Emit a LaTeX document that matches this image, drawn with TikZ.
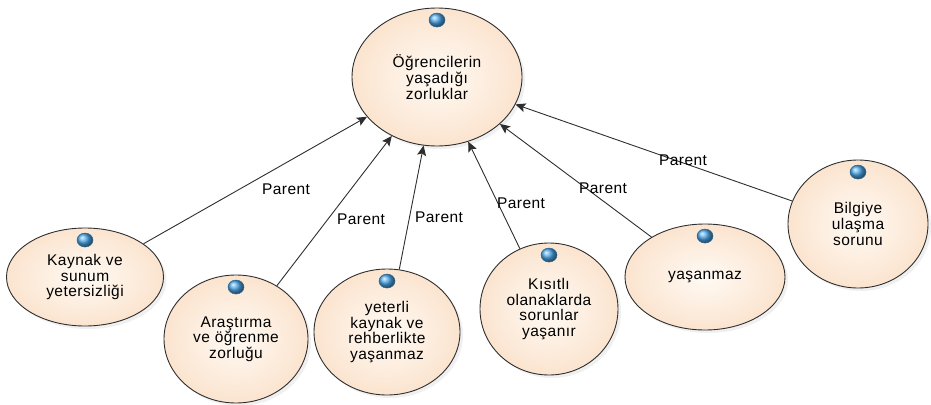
\documentclass[tikz,border=0pt]{standalone}
\usepackage{fontspec}
\setmainfont{Liberation Sans}
\usetikzlibrary{shapes.geometric,arrows.meta,shadows}
\definecolor{peach}{HTML}{FBE4CF}
\definecolor{peachlight}{HTML}{FFFAF4}
\definecolor{edge}{HTML}{2E2E2E}
\definecolor{dotblue}{HTML}{4FAAEC}

\begin{document}
\begin{tikzpicture}[x=1pt,y=-1pt,
    usecase/.style={ellipse, draw=edge, line width=0.9pt, inner color=peachlight, outer color=peach,
      align=center, inner sep=0pt,
      drop shadow={opacity=0.12, shadow xshift=3pt, shadow yshift=-3pt},
      font=\fontsize{15.5}{15.6}\selectfont\addfontfeature{LetterSpace=3}},
    dot/.style={ellipse, draw=dotblue!60!black, line width=0.5pt, shading=ball, ball color=dotblue,
      minimum width=16pt, minimum height=14pt, inner sep=0pt},
    lab/.style={inner sep=1pt, font=\fontsize{15.5}{15.6}\selectfont\addfontfeature{LetterSpace=3}},
    arr/.style={draw=edge, line width=0.9pt, -{Stealth[length=10pt, width=9pt, inset=2pt]}}]
  \useasboundingbox (0,0) rectangle (931,404);

  \node[usecase, minimum width=170pt, minimum height=138pt] (root) at (437,77) {Öğrencilerin\\yaşadığı\\zorluklar};
  \node[usecase, minimum width=157pt, minimum height=98pt] (c1) at (85,277) {Kaynak ve\\sunum\\yetersizliği};
  \node[usecase, minimum width=144pt, minimum height=128pt] (c2) at (236,339) {Araştırma\\ve öğrenme\\zorluğu};
  \node[usecase, minimum width=146pt, minimum height=126pt] (c3) at (387,332) {yeterli\\kaynak ve\\rehberlikte\\yaşanmaz};
  \node[usecase, minimum width=138pt, minimum height=132pt] (c4) at (549,309) {Kısıtlı\\olanaklarda\\sorunlar\\yaşanır};
  \node[usecase, minimum width=160pt, minimum height=106pt] (c5) at (705,277) {yaşanmaz};
  \node[usecase, minimum width=140pt, minimum height=128pt] (c6) at (858,224) {Bilgiye\\ulaşma\\sorunu};

  \foreach \n in {root,c1,c2,c3,c4,c5,c6}
    \node[dot] (d\n) at ([yshift=-12.5pt]\n.north) {};

  \foreach \n in {c1,c2,c3,c4,c5,c6}
    \draw[arr] (\n) -- (root);

  \node[lab] (p1) at (286,189) {Parent};
  \node[lab] (p2) at (361,219) {Parent};
  \node[lab] (p3) at (439,217) {Parent};
  \node[lab] (p4) at (521,203) {Parent};
  \node[lab] (p5) at (603,188) {Parent};
  \node[lab] (p6) at (683,160) {Parent};
\end{tikzpicture}
\end{document}
